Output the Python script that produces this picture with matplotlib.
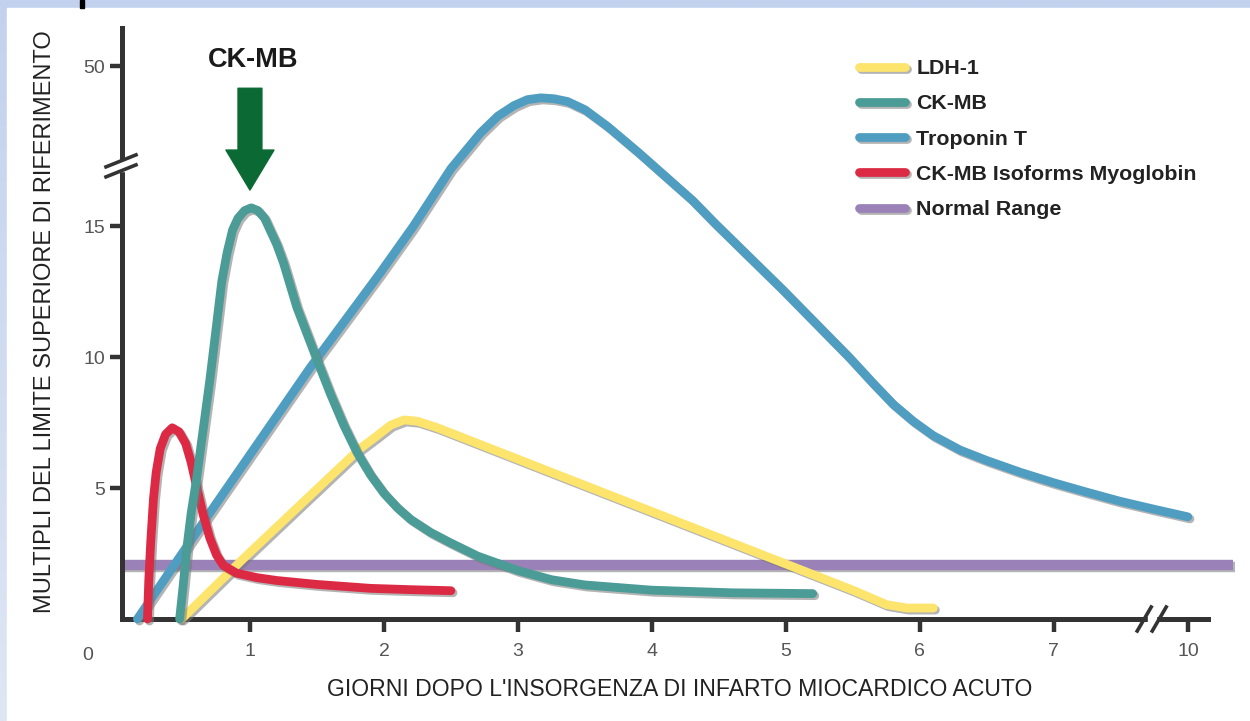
import numpy as np
import matplotlib
matplotlib.use("Agg")
import matplotlib.pyplot as plt
import matplotlib.patheffects as pe
from matplotlib.lines import Line2D
from matplotlib.patches import Rectangle
from matplotlib.colors import LinearSegmentedColormap

plt.rcParams['font.family'] = ['Liberation Sans', 'DejaVu Sans']

# data (days, multiples of the upper reference limit)
ldh_x = [0.49, 0.95, 1.55, 1.82, 1.95, 2.05, 2.15, 2.25, 2.4, 2.5, 3.0, 3.5, 4.0, 4.5, 5.0, 5.5, 5.75, 5.9, 6.1]
ldh_y = [0, 2.3, 5.2, 6.5, 7.0, 7.4, 7.6, 7.55, 7.3, 7.1, 6.1, 5.1, 4.1, 3.1, 2.1, 1.1, 0.55, 0.42, 0.42]

ckmb_x = [0.475, 0.5, 0.53, 0.56, 0.6, 0.65, 0.7, 0.75, 0.79, 0.83, 0.87, 0.91, 0.96, 1.01, 1.06, 1.11,
          1.15, 1.2, 1.25, 1.35, 1.5, 1.6, 1.7, 1.8, 1.9, 2.0, 2.1, 2.2, 2.35, 2.5, 2.7, 3.0, 3.25, 3.5,
          4.0, 4.6, 5.2]
ckmb_y = [0, 1.2, 2.75, 4.0, 5.3, 7.2, 9.1, 11.2, 12.9, 14.0, 14.85, 16.7, 18.4, 19.0, 18.4, 16.7,
          14.85, 14.3, 13.6, 11.9, 9.9, 8.6, 7.4, 6.35, 5.5, 4.8, 4.25, 3.8, 3.3, 2.9, 2.4, 1.85, 1.5, 1.3,
          1.1, 1.0, 0.97]

tnt_x = [0.16, 0.7, 1.45, 1.97, 2.22, 2.5, 2.72, 2.85, 2.97, 3.07, 3.17, 3.27, 3.37, 3.5, 3.67, 3.9,
         4.1, 4.3, 4.47, 4.97, 5.47, 5.65, 5.8, 5.95, 6.1, 6.3, 6.5, 6.75, 7.0, 7.72, 8.47, 9.22, 10.0]
tnt_y = [0, 4.05, 9.6, 13.2, 15.0, 27.6, 35.4, 39.1, 41.4, 42.7, 43.1, 42.9, 42.3, 40.5, 36.8, 31.1,
         25.9, 20.7, 15.6, 12.6, 10.0, 9.0, 8.2, 7.55, 7.0, 6.45, 6.05, 5.6, 5.2, 4.85, 4.5, 4.2, 3.9]

myo_x = [0.235, 0.245, 0.26, 0.28, 0.3, 0.33, 0.37, 0.42, 0.47, 0.52, 0.56, 0.6, 0.65, 0.7, 0.75, 0.8,
         0.9, 1.05, 1.2, 1.5, 1.9, 2.2, 2.5]
myo_y = [0, 1.5, 3.0, 4.6, 5.6, 6.5, 7.05, 7.3, 7.15, 6.7, 6.0, 5.1, 4.0, 3.1, 2.45, 2.05,
         1.75, 1.58, 1.47, 1.32, 1.17, 1.12, 1.08]

normal_x = [0.045, 11.0]
normal_y = [2.06, 2.06]

x_ticks = [1, 2, 3, 4, 5, 6, 7, 10]
y_ticks = [5, 10, 15, 50]
labels = ['LDH-1', 'CK-MB', 'Troponin T', 'CK-MB Isoforms Myoglobin', 'Normal Range']
colors = ['#fde46c', '#4b9b97', '#4f9ec2', '#dc2a44', '#9a82b8']


# broken axes: 7..10 squeezed to one day, 15..50 squeezed on y
def xf(x):
    x = np.asarray(x, float)
    return np.where(x <= 7, x, 7 + (x - 7) / 3.0)


def xi(x):
    x = np.asarray(x, float)
    return np.where(x <= 7, x, 7 + (x - 7) * 3.0)


def yf(y):
    y = np.asarray(y, float)
    return np.where(y <= 15, y, 15 + (y - 15) * 6.1 / 35.0)


def yi(y):
    y = np.asarray(y, float)
    return np.where(y <= 15, y, 15 + (y - 15) * 35.0 / 6.1)


W, H = 1250, 721
fig = plt.figure(figsize=(W / 100, H / 100), dpi=100)

# background frame
bg = fig.add_axes([0, 0, 1, 1], zorder=-2)
grad = np.linspace(0, 1, 256).reshape(-1, 1)
cmap = LinearSegmentedColormap.from_list('frame', ['#c2d2ee', '#dfe6f4'])
bg.imshow(grad, aspect='auto', cmap=cmap, extent=[0, 1, 0, 1], origin='upper')
bg.add_patch(Rectangle((7 / W, 0), 1, (H - 8) / H, color='white'))
bg.add_patch(Rectangle((80 / W, (H - 8) / H), 4 / W, 8 / H, color='black'))
bg.set_xlim(0, 1)
bg.set_ylim(0, 1)
bg.axis('off')

ax = fig.add_axes([122 / W, (H - 619) / H, 1086 / W, 591 / H])
ax.patch.set_visible(False)
ax.set_xscale('function', functions=(xf, xi))
ax.set_yscale('function', functions=(yf, yi))
ax.set_xlim(0.045, 10.45)
ax.set_ylim(0, 58.4)

shadow = [pe.SimpleLineShadow(offset=(1.5, -1.5), shadow_color='#777777', alpha=0.55), pe.Normal()]
lw = 6.3
style = dict(lw=lw, solid_capstyle='round', solid_joinstyle='round', path_effects=shadow, clip_on=False)

ax.plot(normal_x, normal_y, color=colors[4], lw=7.5, solid_capstyle='butt',
        path_effects=shadow, clip_on=False, zorder=2)
ax.plot(ldh_x, ldh_y, color=colors[0], zorder=3, **style)
ax.plot(tnt_x, tnt_y, color=colors[2], zorder=4, **style)
ax.plot(myo_x, myo_y, color=colors[3], zorder=5, **style)
ax.plot(ckmb_x, ckmb_y, color=colors[1], zorder=6, **style)

for s in ['top', 'right']:
    ax.spines[s].set_visible(False)
for s in ['left', 'bottom']:
    ax.spines[s].set_linewidth(3.6)
    ax.spines[s].set_color('#333333')
    ax.spines[s].set_capstyle('projecting')

ax.set_xticks(x_ticks)
ax.set_xticklabels([str(t) for t in x_ticks])
ax.set_yticks(y_ticks)
ax.set_yticklabels([str(t) for t in y_ticks])
ax.minorticks_off()
ax.tick_params(axis='both', colors='#333333', labelcolor='#555555', labelsize=14,
               length=9, width=3.2)
ax.tick_params(axis='x', pad=8.5)
ax.tick_params(axis='y', pad=3)

fig.text(88 / W, 1 - 655 / H, '0', ha='center', va='center', fontsize=14, color='#555555')

ax.set_xlabel("GIORNI DOPO L'INSORGENZA DI INFARTO MIOCARDICO ACUTO", fontsize=16.6, color='#222222')
ax.xaxis.set_label_coords((680 - 122) / 1086, (619 - 690) / 591)
ax.xaxis.label.set_va('center')
ax.set_ylabel('MULTIPLI DEL LIMITE SUPERIORE DI RIFERIMENTO', fontsize=17, color='#222222')
ax.yaxis.set_label_coords((45 - 122) / 1086, (619 - 322) / 591)
ax.yaxis.label.set_va('center')

# CK-MB peak marker
ax.text(1.02, 51.3, 'CK-MB', ha='center', va='center', fontsize=19.5, fontweight='bold', color='#1a1a1a')
ax.annotate('', xy=(1.0, 22.9), xytext=(1.0, 45.2),
            arrowprops=dict(arrowstyle='simple,head_length=1.44,head_width=1.73,tail_width=0.86',
                            color='#0b6a33', shrinkA=0, shrinkB=0, mutation_scale=20))

handles = [Line2D([], [], color=c, lw=lw, solid_capstyle='round', path_effects=shadow) for c in colors]
ax.legend(handles, labels, loc='upper left',
          bbox_to_anchor=(859 / W, 1 - 59 / H), bbox_transform=fig.transFigure,
          frameon=False, borderpad=0, borderaxespad=0, handlelength=2.16, handletextpad=0.52,
          labelspacing=0.76, prop={'size': 15.4, 'weight': 'bold'}, labelcolor='#222222')

# axis break marks, drawn in pixels
fig.canvas.draw()
cx, cy = ax.transData.transform((0.045, float(yi(17.3))))
fig.add_artist(Rectangle((cx - 4, cy - 5), 8, 10, transform=None, color='white', zorder=5))
for off in (-5, 5):
    fig.add_artist(Line2D([cx - 16, cx + 14], [cy + off - 6, cy + off + 6], transform=None,
                          color='#333333', lw=2.6, zorder=6))

bx, by = ax.transData.transform((float(xi(7.73)), 0))
fig.add_artist(Rectangle((bx - 4, by - 4), 8, 8, transform=None, color='white', zorder=5))
for off in (-7.5, 7.5):
    fig.add_artist(Line2D([bx + off - 7, bx + off + 7], [by - 12, by + 12], transform=None,
                          color='#333333', lw=2.6, zorder=6))

fig.savefig('out.png', dpi=100)
